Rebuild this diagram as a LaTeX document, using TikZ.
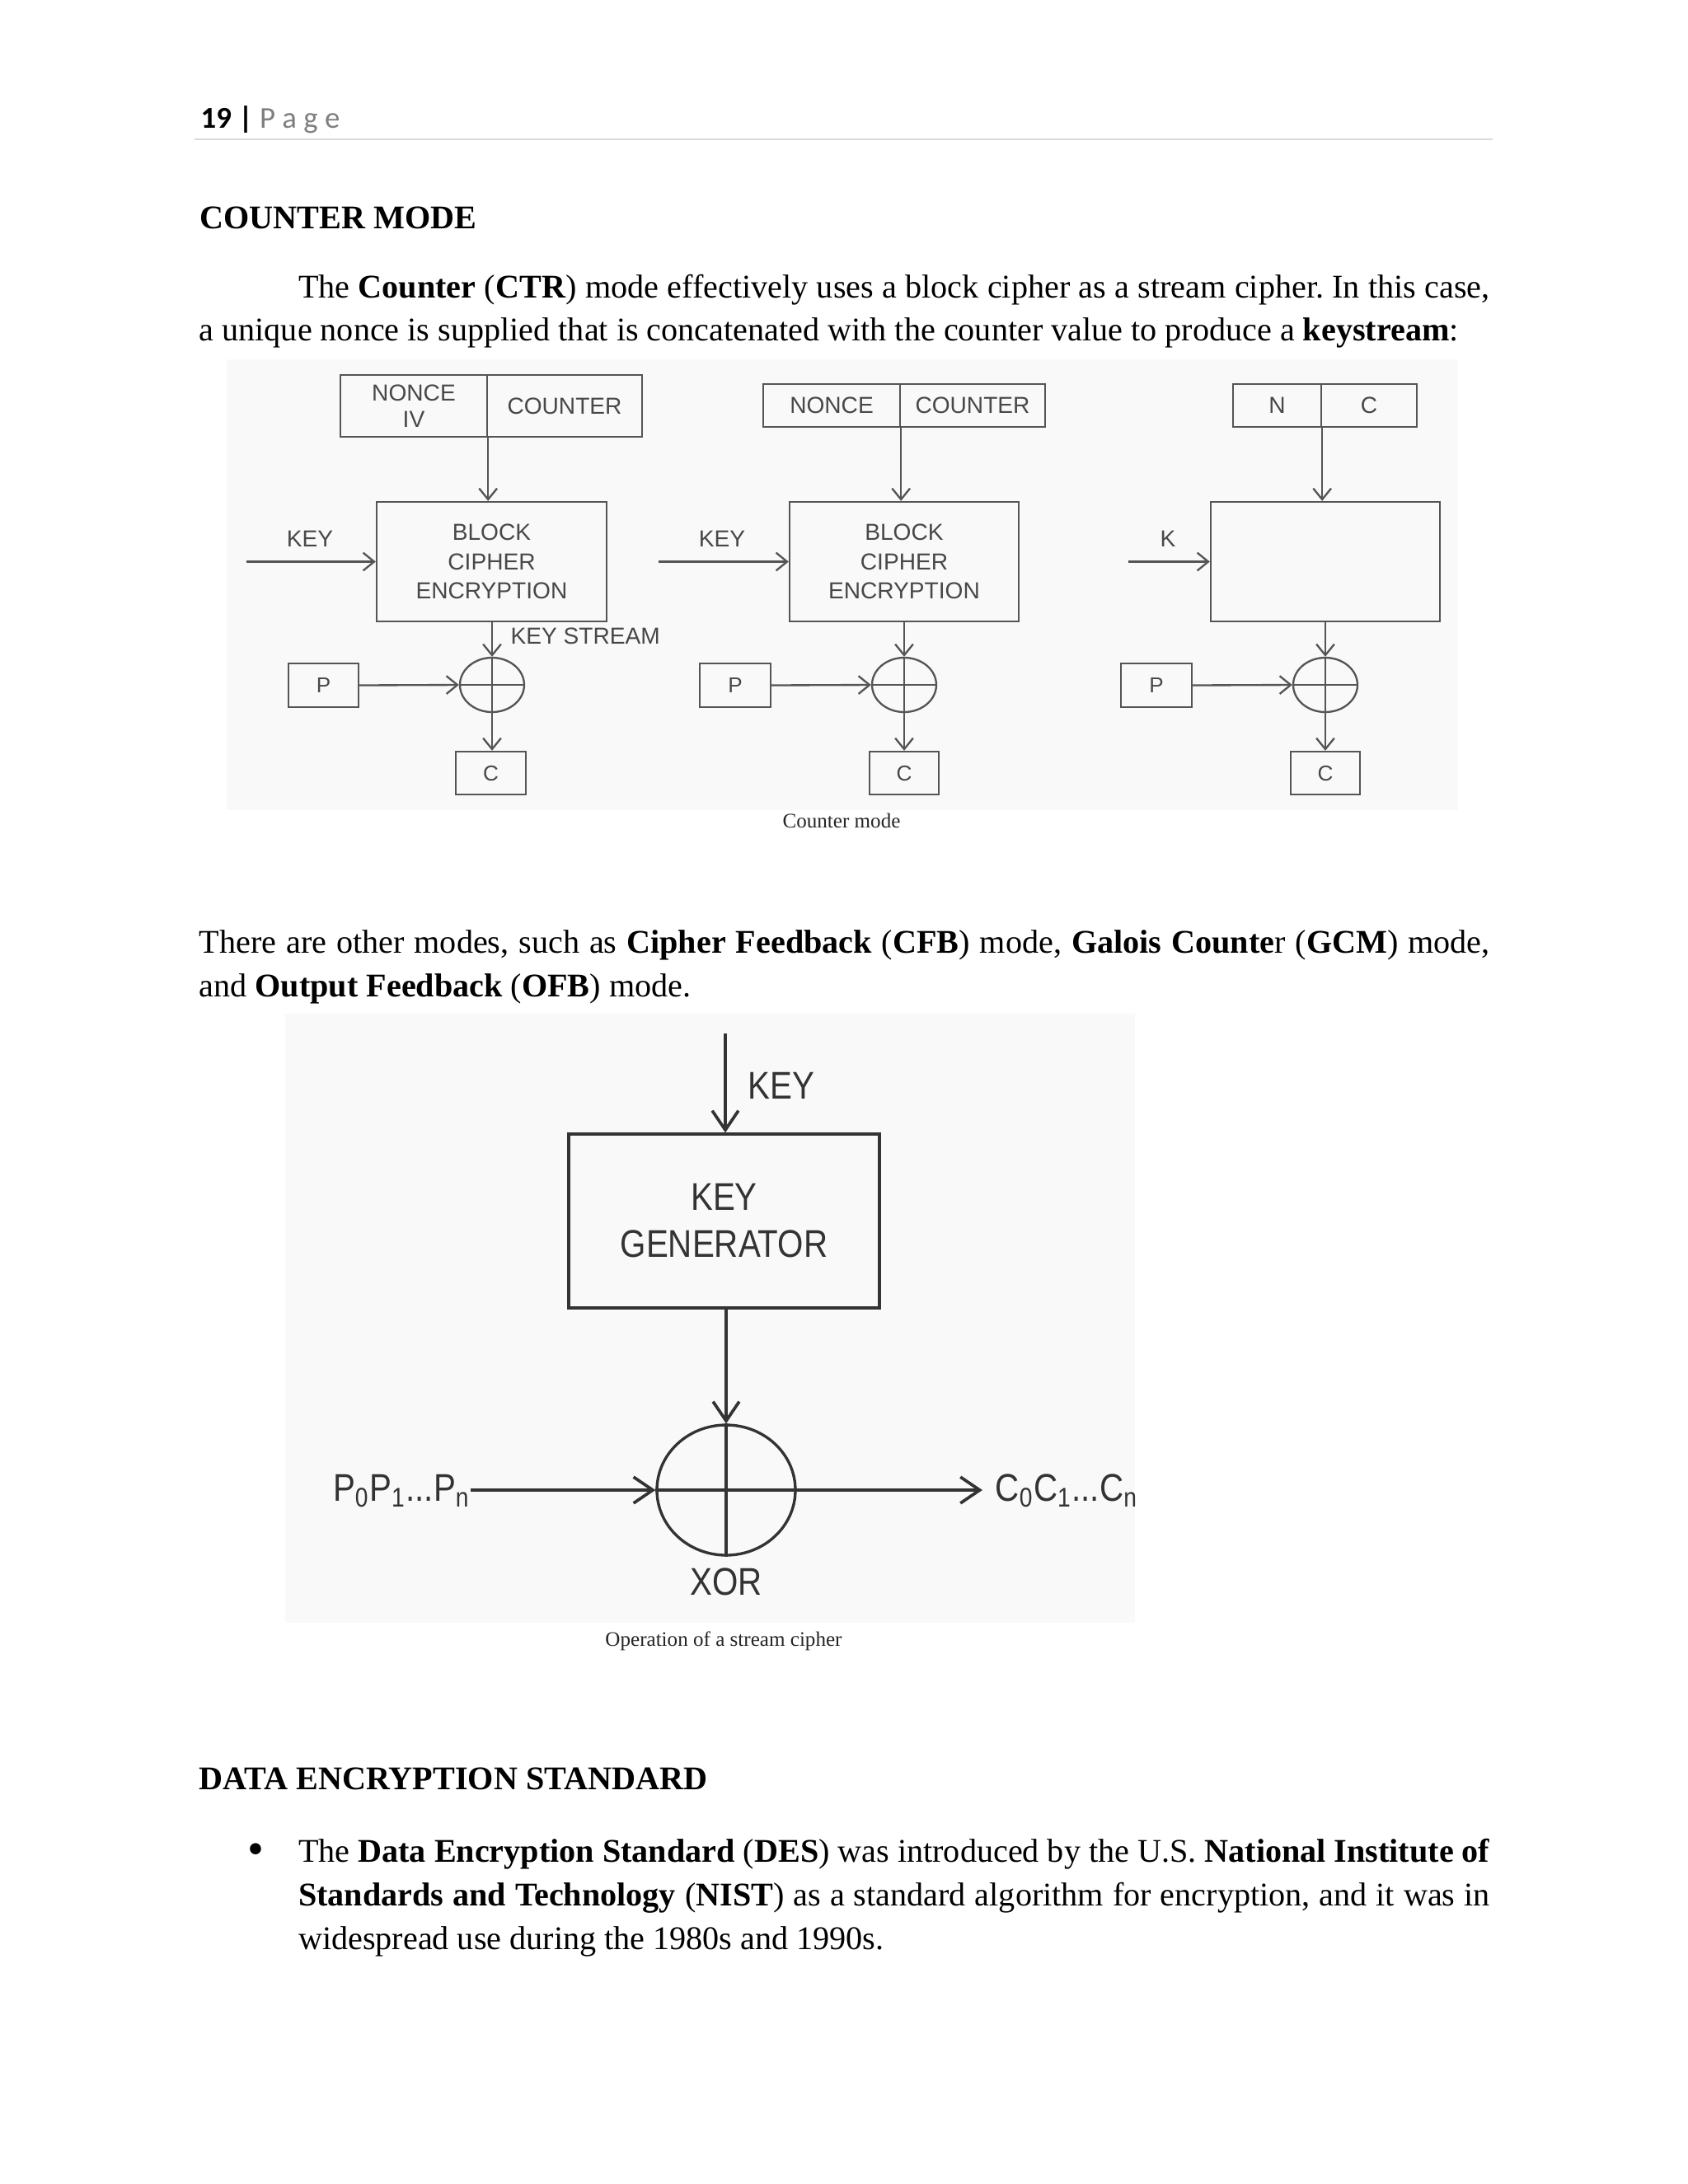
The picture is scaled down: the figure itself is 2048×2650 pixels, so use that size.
\documentclass[tikz,border=0pt]{standalone}
\usepackage{fontspec}
\setmainfont{Liberation Serif}
\newfontfamily\diagfont{Liberation Sans}
\newfontfamily\narrowfont[FakeStretch=0.86]{Liberation Sans}
\newfontfamily\hdrfont{Carlito}
\usetikzlibrary{arrows.meta,shapes.geometric}
\newdimen\pxu \pxu=0.29883pt
\definecolor{lineg}{HTML}{555555}
\definecolor{textg}{HTML}{484848}
\definecolor{darkl}{HTML}{333333}
\definecolor{bgg}{HTML}{F9F9F9}
\definecolor{rulec}{HTML}{D9D9D9}
\definecolor{pageg}{HTML}{7F7F7F}
\begin{document}
\begin{tikzpicture}[x=0.29883pt,y=-0.29883pt,
  body/.style={anchor=base west,inner sep=0pt,font=\fontsize{12}{14}\selectfont\frenchspacing},
  cbox/.style={draw=lineg,line width=0.7pt,rectangle,inner sep=0pt,text=textg,align=center,font=\diagfont\fontsize{8.4}{10.6}\selectfont},
  clab/.style={inner sep=0pt,text=textg,font=\diagfont\fontsize{8.4}{10}\selectfont},
  cletter/.style={cbox,font=\diagfont\fontsize{7.8}{9}\selectfont},
  carr/.style={draw=lineg,line width=0.7pt,-{Straight Barb[length=4pt,width=6.5pt]}},
  cline/.style={draw=lineg,line width=0.7pt},
  cxor/.style={draw=lineg,line width=0.7pt,ellipse,inner sep=0pt,minimum width=78\pxu,minimum height=66\pxu},
  sbox/.style={draw=darkl,line width=1pt,rectangle,inner sep=0pt,text=darkl,align=center,font=\narrowfont\fontsize{14}{17}\selectfont},
  slab/.style={inner sep=0pt,text=darkl,font=\narrowfont\fontsize{14}{16}\selectfont},
  sarr/.style={draw=darkl,line width=1pt,-{Straight Barb[length=7pt,width=9.5pt,line width=1.1pt]}},
  sline/.style={draw=darkl,line width=1pt},
  sxor/.style={draw=darkl,line width=1pt,ellipse,inner sep=0pt,minimum width=168\pxu,minimum height=158\pxu},
  capt/.style={inner sep=0pt,text=black!85,font=\fontsize{7.5}{9}\selectfont}
]
\useasboundingbox (0,0) rectangle (2048,2650);
\fill[white] (0,0) rectangle (2048,2650);

% header
\node[anchor=base west,inner sep=0pt,font=\hdrfont\fontsize{11}{13}\selectfont] (hdr) at (243,155) {\textbf{19 |} \textcolor{pageg}{P a g e}};
\draw[rulec,line width=0.45pt] (236,169) -- (1811,169);

% heading and first paragraph
\node[body] (h1) at (242,277) {\textbf{COUNTER MODE}};
\node[body] (l1) at (361.4,361) {\hbox to 432pt{The \textbf{Counter} (\textbf{CTR}) mode effectively uses a block cipher as a stream cipher. In this case,}};
\node[body] (l2) at (241,413) {a unique nonce is supplied that is concatenated with the counter value to produce a \textbf{keystream}:};

% image backgrounds
\fill[bgg] (275,436) rectangle (1769,983);
\fill[bgg] (346,1230) rectangle (1377,1969);

% ---- counter mode diagram 1
\node[cbox,minimum width=178\pxu,minimum height=75\pxu,font=\diagfont\fontsize{8.4}{9.6}\selectfont] (n1) at (502,492.5) {NONCE\\IV};
\node[cbox,minimum width=188\pxu,minimum height=75\pxu] (t1) at (685,492.5) {COUNTER};
\node[cbox,minimum width=279\pxu,minimum height=145\pxu] (b1) at (596.5,681.5) {BLOCK\\CIPHER\\ENCRYPTION};
\node[clab] (k1) at (376,654) {KEY};
\coordinate (ks1) at (299,681.5);
\draw[carr] (ks1) -- (b1.west);
\draw[carr] (n1.south east) -- (n1.south east |- b1.north);
\node[cxor] (x1) at (597,831) {};
\draw[cline] (x1.north) -- (x1.south) (x1.west) -- (x1.east);
\draw[carr] (x1.north |- b1.south) -- (x1.north);
\node[clab,anchor=west] (ksl) at (619,772) {KEY STREAM};
\node[cletter,minimum width=85\pxu,minimum height=53\pxu] (p1) at (392.5,831.5) {P};
\draw[carr] (p1.east) -- (x1.west);
\node[cletter,minimum width=85\pxu,minimum height=52\pxu] (c1) at (595.5,938) {C};
\draw[carr] (x1.south) -- (x1.south |- c1.north);

% ---- counter mode diagram 2
\node[cbox,minimum width=166\pxu,minimum height=52\pxu] (n2) at (1009,492) {NONCE};
\node[cbox,minimum width=176\pxu,minimum height=52\pxu] (t2) at (1180,492) {COUNTER};
\node[cbox,minimum width=278\pxu,minimum height=145\pxu] (b2) at (1097,681.5) {BLOCK\\CIPHER\\ENCRYPTION};
\node[clab] (k2) at (876,654) {KEY};
\coordinate (ks2) at (799,681.5);
\draw[carr] (ks2) -- (b2.west);
\draw[carr] (n2.south east) -- (n2.south east |- b2.north);
\node[cxor] (x2) at (1097,831) {};
\draw[cline] (x2.north) -- (x2.south) (x2.west) -- (x2.east);
\draw[carr] (x2.north |- b2.south) -- (x2.north);
\node[cletter,minimum width=86\pxu,minimum height=53\pxu] (p2) at (892,831.5) {P};
\draw[carr] (p2.east) -- (x2.west);
\node[cletter,minimum width=84\pxu,minimum height=52\pxu] (c2) at (1097,938) {C};
\draw[carr] (x2.south) -- (x2.south |- c2.north);

% ---- counter mode diagram 3
\node[cbox,minimum width=107\pxu,minimum height=52\pxu] (n3) at (1549.5,492) {N};
\node[cbox,minimum width=116\pxu,minimum height=52\pxu] (t3) at (1661,492) {C};
\node[cbox,minimum width=278\pxu,minimum height=145\pxu] (b3) at (1608,681.5) {};
\node[clab] (k3) at (1417,654) {K};
\coordinate (ks3) at (1369,681.5);
\draw[carr] (ks3) -- (b3.west);
\draw[carr] (n3.south east) -- (n3.south east |- b3.north);
\node[cxor] (x3) at (1608,831) {};
\draw[cline] (x3.north) -- (x3.south) (x3.west) -- (x3.east);
\draw[carr] (x3.north |- b3.south) -- (x3.north);
\node[cletter,minimum width=86\pxu,minimum height=53\pxu] (p3) at (1403,831.5) {P};
\draw[carr] (p3.east) -- (x3.west);
\node[cletter,minimum width=84\pxu,minimum height=52\pxu] (c3) at (1608,938) {C};
\draw[carr] (x3.south) -- (x3.south |- c3.north);

\node[capt] (cap1) at (1021,996) {Counter mode};

% second paragraph
\node[body] (l3) at (241,1156) {\hbox to 468pt{There are other modes, such as \textbf{Cipher Feedback} (\textbf{CFB}) mode, \textbf{Galois Counte}r (\textbf{GCM}) mode,}};
\node[body] (l4) at (241,1209) {and \textbf{Output Feedback} (\textbf{OFB}) mode.};

% ---- stream cipher diagram
\node[sbox,minimum width=377\pxu,minimum height=211\pxu] (kg) at (878.5,1481.5) {KEY\\GENERATOR};
\coordinate (kt) at (880,1254);
\draw[sarr] (kt) -- (kt |- kg.north);
\node[slab] (kl) at (948,1317) {KEY};
\node[sxor] (xc) at (881,1808) {};
\draw[sline] (xc.north) -- (xc.south) (xc.west) -- (xc.east);
\draw[sarr] (xc.north |- kg.south) -- (xc.north);
\node[slab,anchor=base east] (pl) at (571,1821) {P\textsubscript{0}P\textsubscript{1}...P\textsubscript{n}};
\draw[sarr] (pl.east |- xc.west) -- (xc.west);
\node[slab,anchor=base west] (cl) at (1207,1821) {C\textsubscript{0}C\textsubscript{1}...C\textsubscript{n}};
\draw[sarr] (xc.east) -- ([xshift=-4.5pt]cl.west |- xc.east);
\node[slab] (xl) at (881,1919) {XOR};
\node[capt] (cap2) at (878,1991) {Operation of a stream cipher};

% DES section
\node[body] (h2) at (241,2171) {\textbf{DATA ENCRYPTION STANDARD}};
\node[inner sep=0pt,font=\fontsize{17}{18}\selectfont] (bul) at (310,2250) {•};
\node[body] (b1l) at (361.4,2259) {\hbox to 432pt{The \textbf{Data Encryption Standard} (\textbf{DES}) was introduced by the U.S. \textbf{National Institute of}}};
\node[body] (b2l) at (361.4,2312) {\hbox to 432pt{\textbf{Standards and Technology} (\textbf{NIST}) as a standard algorithm for encryption, and it was in}};
\node[body] (b3l) at (361.4,2365) {widespread use during the 1980s and 1990s.};
\end{tikzpicture}
\end{document}
